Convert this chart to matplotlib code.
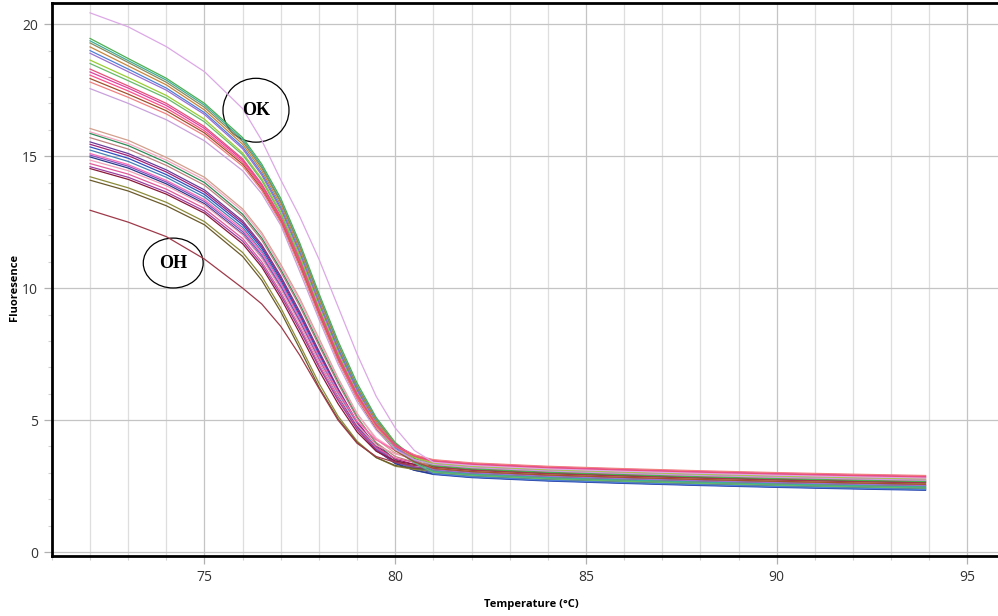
import matplotlib
matplotlib.use("Agg")
import matplotlib.pyplot as plt
from matplotlib.patches import Ellipse
from matplotlib.ticker import MultipleLocator

temps = [72, 73, 74, 75, 76, 76.5, 77, 77.5, 78, 78.5, 79, 79.5, 80, 80.5,
         81, 82, 84, 86, 88, 90, 92, 93.9]

# OK group (upper bundle)
ok_curves = [
    [19.46, 18.70, 17.95, 17.00, 15.70, 14.70, 13.40, 11.70, 9.80, 8.00, 6.40, 5.10, 4.15, 3.55, 3.27, 3.15, 3.02, 2.93, 2.85, 2.78, 2.72, 2.67],
    [19.37, 18.62, 17.88, 16.93, 15.63, 14.62, 13.30, 11.60, 9.70, 7.90, 6.30, 5.05, 4.05, 3.45, 3.07, 2.95, 2.82, 2.73, 2.65, 2.58, 2.52, 2.47],
    [19.29, 18.55, 17.80, 16.85, 15.55, 14.55, 13.25, 11.55, 9.65, 7.85, 6.25, 5.00, 4.10, 3.62, 3.32, 3.20, 3.07, 2.98, 2.90, 2.83, 2.77, 2.72],
    [19.14, 18.42, 17.70, 16.75, 15.45, 14.45, 13.15, 11.45, 9.55, 7.75, 6.20, 4.95, 4.02, 3.50, 3.17, 3.05, 2.92, 2.83, 2.75, 2.68, 2.62, 2.57],
    [19.00, 18.30, 17.58, 16.65, 15.35, 14.35, 13.05, 11.35, 9.45, 7.70, 6.15, 4.88, 3.95, 3.38, 2.97, 2.85, 2.72, 2.63, 2.55, 2.48, 2.42, 2.37],
    [18.90, 18.20, 17.50, 16.58, 15.28, 14.28, 12.98, 11.28, 9.40, 7.62, 6.10, 4.88, 3.98, 3.47, 3.12, 3.00, 2.87, 2.78, 2.70, 2.63, 2.57, 2.52],
    [18.64, 17.98, 17.30, 16.40, 15.12, 14.15, 12.88, 11.20, 9.30, 7.55, 6.02, 4.85, 4.02, 3.60, 3.37, 3.25, 3.12, 3.03, 2.95, 2.88, 2.82, 2.77],
    [18.51, 17.86, 17.20, 16.30, 15.05, 14.08, 12.80, 11.12, 9.22, 7.48, 5.98, 4.76, 3.88, 3.38, 3.02, 2.90, 2.77, 2.68, 2.60, 2.53, 2.47, 2.42],
    [18.19, 17.58, 16.92, 16.05, 14.85, 13.90, 12.65, 11.00, 9.12, 7.40, 5.95, 4.82, 4.05, 3.68, 3.47, 3.35, 3.22, 3.13, 3.05, 2.98, 2.92, 2.87],
    [18.07, 17.47, 16.82, 15.96, 14.78, 13.84, 12.60, 10.95, 9.08, 7.36, 5.90, 4.78, 4.02, 3.64, 3.42, 3.30, 3.17, 3.08, 3.00, 2.93, 2.87, 2.82],
    [17.94, 17.35, 16.72, 15.88, 14.70, 13.76, 12.52, 10.85, 9.00, 7.28, 5.82, 4.66, 3.84, 3.42, 3.17, 3.05, 2.92, 2.83, 2.75, 2.68, 2.62, 2.57],
    [17.81, 17.23, 16.60, 15.78, 14.62, 13.70, 12.48, 10.78, 8.95, 7.24, 5.82, 4.74, 4.00, 3.68, 3.50, 3.38, 3.25, 3.16, 3.08, 3.01, 2.95, 2.90],
    [17.56, 17.00, 16.38, 15.58, 14.45, 13.58, 12.38, 10.62, 8.82, 7.12, 5.70, 4.62, 3.88, 3.50, 3.32, 3.20, 3.07, 2.98, 2.90, 2.83, 2.77, 2.72],
    [18.30, 17.66, 17.00, 16.12, 14.90, 13.95, 12.70, 11.05, 9.18, 7.45, 5.98, 4.82, 4.02, 3.64, 3.44, 3.32, 3.19, 3.10, 3.02, 2.95, 2.89, 2.84],
]
ok_colors = ["#4caf50", "#3fae9a", "#8a8a5c", "#c8843c", "#4f7fd8", "#9b6fd1",
             "#9acd32", "#66bb6a", "#e040a0", "#ff4f8b", "#a0522d", "#f08080",
             "#c9a0dc", "#e8507a"]

# single curve above everything
outlier = [20.43, 19.90, 19.15, 18.20, 16.80, 15.60, 14.10, 12.70, 11.10, 9.30, 7.50, 5.90, 4.70, 3.85, 3.40, 3.28, 3.15, 3.06, 2.98, 2.91, 2.85, 2.80]

# OH group (lower bundle)
oh_curves = [
    [16.05, 15.60, 14.95, 14.20, 13.00, 12.10, 10.90, 9.60, 8.10, 6.60, 5.25, 4.28, 3.75, 3.50, 3.34, 3.22, 3.09, 3.00, 2.92, 2.85, 2.79, 2.74],
    [15.92, 15.48, 14.85, 14.10, 12.92, 12.02, 10.82, 9.52, 8.02, 6.55, 5.22, 4.32, 3.85, 3.60, 3.44, 3.32, 3.19, 3.10, 3.02, 2.95, 2.89, 2.84],
    [15.86, 15.40, 14.76, 14.00, 12.80, 11.90, 10.70, 9.38, 7.90, 6.45, 5.12, 4.12, 3.50, 3.20, 3.02, 2.90, 2.77, 2.68, 2.60, 2.53, 2.47, 2.42],
    [15.70, 15.27, 14.65, 13.90, 12.72, 11.82, 10.62, 9.30, 7.82, 6.38, 5.08, 4.15, 3.62, 3.40, 3.27, 3.15, 3.02, 2.93, 2.85, 2.78, 2.72, 2.67],
    [15.54, 15.10, 14.48, 13.72, 12.55, 11.65, 10.45, 9.10, 7.62, 6.20, 4.92, 3.98, 3.42, 3.16, 3.00, 2.88, 2.75, 2.66, 2.58, 2.51, 2.45, 2.40],
    [15.45, 15.02, 14.40, 13.64, 12.48, 11.58, 10.38, 9.02, 7.55, 6.15, 4.92, 4.03, 3.52, 3.32, 3.22, 3.10, 2.97, 2.88, 2.80, 2.73, 2.67, 2.62],
    [15.35, 14.92, 14.30, 13.55, 12.40, 11.50, 10.30, 8.95, 7.48, 6.10, 4.85, 3.92, 3.38, 3.10, 2.94, 2.82, 2.69, 2.60, 2.52, 2.45, 2.39, 2.34],
    [15.23, 14.80, 14.20, 13.45, 12.30, 11.40, 10.22, 8.88, 7.42, 6.05, 4.83, 3.94, 3.42, 3.18, 3.04, 2.92, 2.79, 2.70, 2.62, 2.55, 2.49, 2.44],
    [15.10, 14.68, 14.08, 13.35, 12.22, 11.34, 10.18, 8.85, 7.40, 6.08, 4.95, 4.25, 3.85, 3.62, 3.48, 3.36, 3.23, 3.14, 3.06, 2.99, 2.93, 2.88],
    [15.04, 14.62, 14.02, 13.28, 12.14, 11.25, 10.08, 8.75, 7.30, 5.96, 4.78, 3.92, 3.42, 3.22, 3.10, 2.98, 2.85, 2.76, 2.68, 2.61, 2.55, 2.50],
    [14.97, 14.55, 13.95, 13.20, 12.05, 11.16, 10.00, 8.68, 7.24, 5.92, 4.74, 3.86, 3.35, 3.10, 2.96, 2.84, 2.71, 2.62, 2.54, 2.47, 2.41, 2.36],
    [14.85, 14.45, 13.88, 13.15, 12.02, 11.14, 9.98, 8.66, 7.24, 5.95, 4.82, 4.05, 3.72, 3.52, 3.37, 3.25, 3.12, 3.03, 2.95, 2.88, 2.82, 2.77],
    [14.72, 14.32, 13.75, 13.02, 11.88, 11.00, 9.84, 8.52, 7.10, 5.82, 4.70, 3.94, 3.55, 3.40, 3.30, 3.18, 3.05, 2.96, 2.88, 2.81, 2.75, 2.70],
    [14.60, 14.20, 13.64, 12.92, 11.78, 10.90, 9.74, 8.42, 7.02, 5.75, 4.65, 3.84, 3.40, 3.23, 3.14, 3.02, 2.89, 2.80, 2.72, 2.65, 2.59, 2.54],
    [14.53, 14.12, 13.56, 12.84, 11.68, 10.80, 9.62, 8.28, 6.88, 5.62, 4.55, 3.82, 3.45, 3.32, 3.25, 3.13, 3.00, 2.91, 2.83, 2.76, 2.70, 2.65],
    [14.22, 13.80, 13.25, 12.52, 11.35, 10.45, 9.25, 7.85, 6.40, 5.15, 4.20, 3.58, 3.25, 3.13, 3.07, 2.95, 2.82, 2.73, 2.65, 2.58, 2.52, 2.47],
    [14.09, 13.68, 13.12, 12.40, 11.20, 10.30, 9.10, 7.70, 6.25, 5.05, 4.15, 3.58, 3.28, 3.17, 3.12, 3.00, 2.87, 2.78, 2.70, 2.63, 2.57, 2.52],
    [12.95, 12.50, 11.95, 11.10, 10.00, 9.40, 8.55, 7.45, 6.20, 5.00, 4.12, 3.62, 3.40, 3.28, 3.22, 3.10, 2.97, 2.88, 2.80, 2.73, 2.67, 2.62],
]
oh_colors = ["#d2a08c", "#f4a6c0", "#2e8b57", "#c08080", "#6a3d9a", "#a0207a",
             "#3050c0", "#4682b4", "#ff69b4", "#8a4fbf", "#283c8c", "#f0a0b8",
             "#e05a9a", "#9a3fa0", "#8b1a3a", "#8b8b3a", "#6b5a2a", "#9e3a4a"]

fig = plt.figure(figsize=(9.98, 6.16), dpi=100)
ax = fig.add_axes([0.052, 0.0974, 0.948, 0.8976])

for vals, c in zip(oh_curves, oh_colors):
    ax.plot(temps, vals, color=c, lw=0.9)
for vals, c in zip(ok_curves, ok_colors):
    ax.plot(temps, vals, color=c, lw=0.9)
ax.plot(temps, outlier, color="#dca8e6", lw=0.9)

ax.set_xlim(71.0, 95.8)
ax.set_ylim(-0.15, 20.8)

ax.xaxis.set_major_locator(MultipleLocator(5))
ax.xaxis.set_minor_locator(MultipleLocator(1))
ax.yaxis.set_major_locator(MultipleLocator(5))
ax.yaxis.set_minor_locator(MultipleLocator(1))
ax.grid(True, which="major", axis="both", color="#c4c4c4", lw=0.9)
ax.grid(True, which="minor", axis="x", color="#dedede", lw=0.9)
ax.set_axisbelow(True)

ax.tick_params(which="major", length=6, width=0.9, color="#b0b0b0",
               labelsize=10, labelcolor="#333333", pad=4)
ax.tick_params(which="minor", length=3, width=0.8, color="#d0d0d0")
for lab in ax.get_xticklabels() + ax.get_yticklabels():
    lab.set_fontfamily("Open Sans")

for s in ["left", "bottom", "top"]:
    ax.spines[s].set_linewidth(2)
    ax.spines[s].set_color("black")
ax.spines["right"].set_visible(False)

# annotations
ax.add_patch(Ellipse((76.35, 16.74), 1.73, 2.42, fill=False, ec="black", lw=0.9))
ax.text(76.35, 16.74, "OK", ha="center", va="center", fontsize=13,
        fontweight="bold", family="Liberation Serif")
ax.add_patch(Ellipse((74.18, 10.95), 1.57, 1.89, fill=False, ec="black", lw=0.9))
ax.text(74.18, 10.95, "OH", ha="center", va="center", fontsize=13,
        fontweight="bold", family="Liberation Serif")

fig.text(531 / 998, 1 - 604 / 616, "Temperature (°C)", ha="center", va="center",
         fontsize=8, fontweight="bold", family="Open Sans")
fig.text(14 / 998, 1 - 287 / 616, "Fluoresence", ha="center", va="center",
         rotation=90, fontsize=8, fontweight="bold", family="Open Sans")

fig.savefig("out.png", dpi=100)
